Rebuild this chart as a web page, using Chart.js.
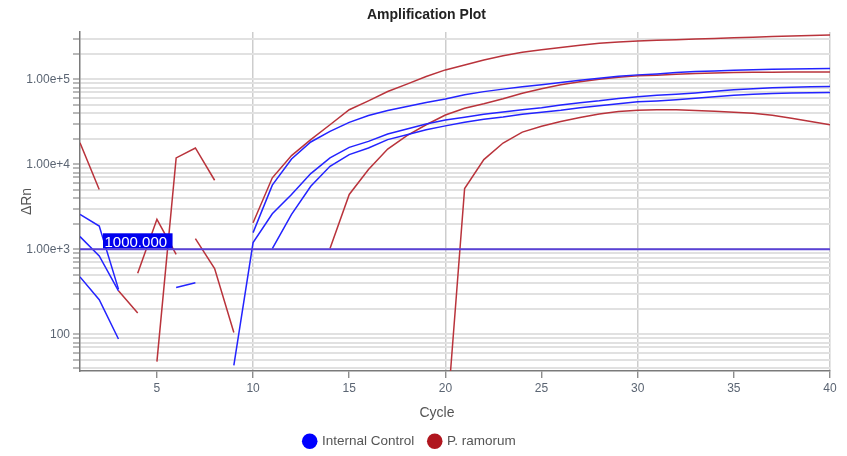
<!DOCTYPE html>
<html>
<head>
<meta charset="utf-8">
<script src="https://cdn.jsdelivr.net/npm/chart.js@4.4.1/dist/chart.umd.min.js"></script>
<style>
  html, body { margin: 0; padding: 0; background: #fff; }
  #wrap { width: 847px; height: 456px; position: relative; }
</style>
</head>
<body>
<div id="wrap"><canvas id="c"></canvas></div>
<script>
// ---------- data ----------
const cycles = [1,2,3,4,5,6,7,8,9,10,11,12,13,14,15,16,17,18,19,20,21,22,23,24,25,26,27,28,29,30,31,32,33,34,35,36,37,38,39,40];

const internalA = [2570,1875,340,null,null,356,403,null,null,1570,5680,11560,18300,24400,31100,37500,42900,47900,53300,58600,65600,71600,76600,81500,86000,91500,97300,103000,108400,112700,115700,119900,123200,125400,127800,129600,131000,132500,133100,133600];
const internalB = [1410,834,325,null,null,null,null,null,43,1198,2620,4420,7780,11890,15800,18600,22700,26000,29800,33200,35700,38800,41100,43800,46200,49700,52900,55800,59600,62200,64700,66800,69200,72100,75100,77600,79700,80800,81500,82300];
const internalC = [473,255,88,null,null,null,null,null,null,null,1019,2570,5520,9480,13000,15560,19500,22300,25500,28300,31300,33900,36000,38800,40900,43200,46200,48800,51500,54300,55500,57300,59700,62200,64700,66800,68200,69200,69500,69900];

const ramorumA = [17950,5050,null,null,47.7,11890,15560,6490,null,2055,6930,12650,19500,29200,43800,55800,71800,87700,107700,128900,147600,168800,189500,208000,222500,236500,251800,265000,274400,281800,287000,292600,297600,302700,307600,312800,317800,322900,327300,331800];
const ramorumB = [null,null,325,178,null,null,1335,594,105,null,null,null,null,1019,4420,8670,15100,21700,29200,38000,45600,51500,58900,68400,77200,86000,93300,100300,106000,109700,111700,114700,117300,118900,120200,120900,121200,121500,121800,122200];
const ramorumC = [null,null,null,523,2250,873,null,null,null,null,null,null,null,null,null,null,null,null,null,6,5190,11350,17800,23900,28000,31900,35600,39000,41800,43300,43800,43800,43000,42100,40900,39800,37700,34800,31900,29200];

const threshold = 1000;
const thresholdCycles = [1, 40];

const xTickValues = [5,10,15,20,25,30,35,40];
const yTickValues = [40,50,60,70,80,90,100,200,300,400,500,600,700,800,900,1000,2000,3000,4000,5000,6000,7000,8000,9000,10000,20000,30000,40000,50000,60000,70000,80000,90000,100000,200000,300000];
const yLabeled = { 100: '100', 1000: '1.00e+3', 10000: '1.00e+4', 100000: '1.00e+5' };

const seriesNames = ['Internal Control', 'P. ramorum'];
const seriesColors = ['#0000ff', '#b0161e'];
const lineColors = ['#2323ff', '#b9333b'];

// ---------- build ----------
const FONT = '"Liberation Sans", Arial, Helvetica, sans-serif';
function pts(arr) { return cycles.map((c, i) => ({ x: c, y: arr[i] })); }
function ds(arr, k) {
  return { data: pts(arr), borderColor: lineColors[k], backgroundColor: lineColors[k], borderWidth: 1.5,
           pointRadius: 0, tension: 0, spanGaps: false, order: 1 };
}

const datasets = [
  { label: 'threshold', data: thresholdCycles.map(c => ({ x: c, y: threshold })), borderColor: '#5a42d6',
    borderWidth: 2, pointRadius: 0, order: -1 },
  ds(internalA, 0), ds(internalB, 0), ds(internalC, 0),
  ds(ramorumA, 1), ds(ramorumB, 1), ds(ramorumC, 1)
];

const tweak = {
  id: 'tweak',
  afterLayout(chart) {
    if (chart.titleBlock) { chart.titleBlock.left += 23; }
    if (chart.legend) { chart.legend.left -= 10; chart.legend.top += 2; chart.legend.bottom += 2; }
  },
  afterDatasetsDraw(chart) {
    const ctx = chart.ctx, ca = chart.chartArea;
    const ty = chart.scales.y.getPixelForValue(threshold);
    const txt = threshold.toFixed(3);
    ctx.save();
    ctx.font = '15px ' + FONT;
    const w = ctx.measureText(txt).width;
    const x0 = ca.left + 23;
    ctx.fillStyle = '#0000ee';
    ctx.fillRect(x0, ty - 16, w + 7, 15);
    ctx.fillStyle = '#ffffff';
    ctx.textBaseline = 'alphabetic';
    ctx.textAlign = 'left';
    ctx.fillText(txt, x0 + 1.5, ty - 2);
    ctx.restore();
  },
  afterDraw(chart) {
    const ctx = chart.ctx, ca = chart.chartArea;
    ctx.save();
    ctx.font = '14px ' + FONT;
    ctx.fillStyle = '#555';
    ctx.textAlign = 'center';
    ctx.textBaseline = 'middle';
    ctx.fillText('Cycle', (ca.left + ca.right) / 2 - 18, ca.bottom + 42);
    ctx.restore();
  }
};

new Chart(document.getElementById('c'), {
  type: 'line',
  data: { datasets },
  plugins: [tweak],
  options: {
    responsive: true,
    maintainAspectRatio: false,
    animation: false,
    layout: { padding: { left: 0, right: 17, top: 0, bottom: 0 } },
    plugins: {
      title: { display: true, text: 'Amplification Plot', color: '#222',
               font: { family: FONT, size: 14, weight: 'bold' }, padding: { top: 7, bottom: 8.2 } },
      legend: {
        display: true, position: 'bottom',
        labels: {
          usePointStyle: true, boxWidth: 11, boxHeight: 11, color: '#555', padding: 15,
          font: { family: FONT, size: 13.5 },
          generateLabels: () => seriesNames.map((n, k) => ({
            text: n, fillStyle: seriesColors[k], strokeStyle: seriesColors[k], lineWidth: 0,
            pointStyle: 'circle', hidden: false, fontColor: '#555', datasetIndex: k + 1
          }))
        }
      },
      tooltip: { enabled: false }
    },
    scales: {
      x: {
        type: 'linear', min: 1, max: 40,
        afterBuildTicks: s => { s.ticks = xTickValues.map(v => ({ value: v })); },
        afterFit: s => { s.height = 46.5; },
        grid: {
          color: c => (c.tick && c.tick.value % 10 === 0) ? '#cdcdcd' : 'rgba(0,0,0,0)',
          lineWidth: 1.5, tickColor: '#7a7a7a', tickLength: 7, tickWidth: 1.2
        },
        border: { display: true, color: '#7a7a7a', width: 1.5 },
        ticks: { color: '#5b6573', font: { family: FONT, size: 12 }, padding: 3, autoSkip: false, maxRotation: 0,
                 callback: v => String(v) },
        title: { display: false }
      },
      y: {
        type: 'logarithmic', min: 37, max: 360000,
        afterBuildTicks: s => { s.ticks = yTickValues.map(v => ({ value: v })); },
        afterFit: s => { s.width = 80; },
        grid: { color: '#e1e1e1', lineWidth: 2, tickColor: '#8a8a8a', tickLength: 7, tickWidth: 1.2 },
        border: { display: true, color: '#7a7a7a', width: 1.5 },
        ticks: { color: '#5b6573', font: { family: FONT, size: 12 }, padding: 3, autoSkip: false,
                 callback: v => (yLabeled[v] !== undefined ? yLabeled[v] : '') },
        title: { display: true, text: 'ΔRn', color: '#555', font: { family: FONT, size: 14 },
                 padding: { top: 18.6, bottom: 0 } }
      }
    }
  }
});
</script>
</body>
</html>
